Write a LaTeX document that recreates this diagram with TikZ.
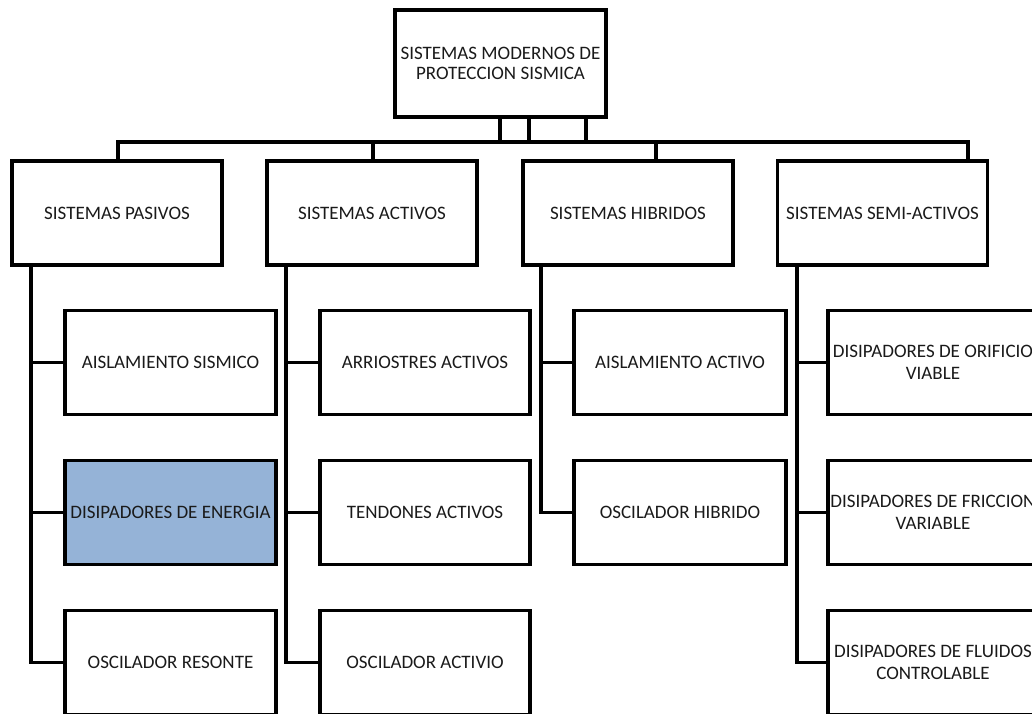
\documentclass[tikz,border=0pt]{standalone}
\usepackage{fontspec}
\setmainfont{Carlito}
\definecolor{boxblue}{HTML}{95B3D7}
\definecolor{inkgray}{HTML}{1A1A1A}
\begin{document}
\begin{tikzpicture}[x=1pt,y=-1pt,
  every node/.style={font=\fontsize{19}{21.5}\selectfont, text=inkgray},
  box/.style={draw=black, line width=3.6pt, minimum width=210pt, minimum height=104pt,
              inner sep=0pt, align=center, fill=white},
  link/.style={draw=black, line width=3.6pt}]
  \useasboundingbox (0,0) rectangle (1032,713);
  \clip (0,0) rectangle (1032,713);

  % root
  \node[box, minimum width=211pt, minimum height=107pt] (root) at (500.5,63.5)
    {SISTEMAS MODERNOS DE\\[-2pt]PROTECCION SISMICA};

  % first level
  \node[box] (pas)  at (117,213)   {SISTEMAS PASIVOS};
  \node[box] (act)  at (372,213)   {SISTEMAS ACTIVOS};
  \node[box] (hib)  at (628,213)   {SISTEMAS HIBRIDOS};
  \node[box] (semi) at (882.5,213) {SISTEMAS SEMI-ACTIVOS};

  % passive systems
  \node[box, minimum width=211pt] (p1) at (170.5,362.5) {AISLAMIENTO SISMICO};
  \node[box, minimum width=211pt, fill=boxblue] (p2) at (170.5,512.5) {DISIPADORES DE ENERGIA};
  \node[box, minimum width=211pt] (p3) at (170.5,662.5) {OSCILADOR RESONTE};

  % active systems
  \node[box] (a1) at (425,362.5) {ARRIOSTRES ACTIVOS};
  \node[box] (a2) at (425,512.5) {TENDONES ACTIVOS};
  \node[box] (a3) at (425,662.5) {OSCILADOR ACTIVIO};

  % hybrid systems
  \node[box, minimum width=212pt] (h1) at (680,362.5) {AISLAMIENTO ACTIVO};
  \node[box, minimum width=212pt] (h2) at (680,512.5) {OSCILADOR HIBRIDO};

  % semi-active systems
  \node[box] (s1) at (933,362.5) {DISIPADORES DE ORIFICIO\\VIABLE};
  \node[box] (s2) at (933,512.5) {DISIPADORES DE FRICCION\\VARIABLE};
  \node[box] (s3) at (933,662.5) {DISIPADORES DE FLUIDOS\\CONTROLABLE};

  % bus from the root to the first level
  \coordinate (bus) at (500,142);
  \draw[link] ([xshift=-0.5pt]root.south) -- ([xshift=-0.5pt]root.south |- bus);
  \draw[link] ([xshift=28.5pt]root.south) -- ([xshift=28.5pt]root.south |- bus);
  \draw[link] ([xshift=85.5pt]root.south) -- ([xshift=85.5pt]root.south |- bus);
  \draw[link] ([xshift=1pt]pas.north) -- ([xshift=1pt]pas.north |- bus)
              -| ([xshift=85.5pt]semi.north);
  \draw[link] ([xshift=1pt]act.north) -- ([xshift=1pt]act.north |- bus);
  \draw[link] ([xshift=28pt]hib.north) -- ([xshift=28pt]hib.north |- bus);

  % trunks down to the second level
  \coordinate (tp) at ([xshift=21pt]pas.south west);
  \coordinate (ta) at ([xshift=21pt]act.south west);
  \coordinate (th) at ([xshift=20pt]hib.south west);
  \coordinate (ts) at ([xshift=21pt]semi.south west);

  \draw[link] (tp) |- (p3.west);
  \draw[link] (p1.west) -- (p1.west -| tp);
  \draw[link] (p2.west) -- (p2.west -| tp);

  \draw[link] (ta) |- (a3.west);
  \draw[link] (a1.west) -- (a1.west -| ta);
  \draw[link] (a2.west) -- (a2.west -| ta);

  \draw[link] (th) |- (h2.west);
  \draw[link] (h1.west) -- (h1.west -| th);

  \draw[link] (ts) |- (s3.west);
  \draw[link] (s1.west) -- (s1.west -| ts);
  \draw[link] (s2.west) -- (s2.west -| ts);
\end{tikzpicture}
\end{document}
